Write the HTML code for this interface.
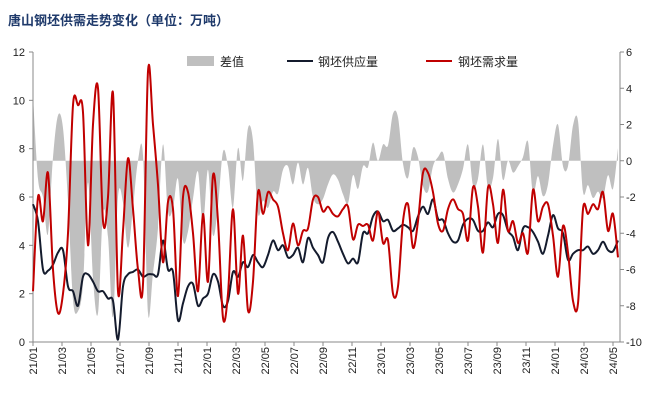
<!DOCTYPE html>
<html><head><meta charset="utf-8">
<style>
body{margin:0;background:#fff;}
svg text{font-family:"Liberation Sans","Noto Sans CJK SC",sans-serif;}
</style></head>
<body>
<svg id="chart" width="652" height="415" xmlns="http://www.w3.org/2000/svg">
<text x="8" y="25" font-size="13" font-weight="bold" fill="#1f3a6b">唐山钢坯供需走势变化（单位：万吨）</text>
<g id="diffG"></g>
<g id="axes"></g>
<g id="lines"></g>
<g>
<g><rect x="187" y="56" width="27" height="10" fill="#bfbfbf"/><text x="220" y="66" font-size="12" fill="#222">差值</text></g>
<g><line x1="287" y1="61" x2="313" y2="61" stroke="#141b2d" stroke-width="2"/><text x="318" y="66" font-size="12" fill="#222">钢坯供应量</text></g>
<g><line x1="426" y1="61" x2="452" y2="61" stroke="#c00000" stroke-width="2"/><text x="458" y="66" font-size="12" fill="#222">钢坯需求量</text></g>
</g>
</svg>
<script>
const xLabels=["21/01","21/03","21/05","21/07","21/09","21/11","22/01","22/03","22/05","22/07","22/09","22/11","23/01","23/03","23/05","23/07","23/09","23/11","24/01","24/03","24/05"];
const leftTicks=[0,2,4,6,8,10,12];
const rightTicks=[-10,-8,-6,-4,-2,0,2,4,6];
const supply=[5.7,5.0,3.0,2.95,3.2,3.7,3.8,2.3,2.1,1.5,2.7,2.8,2.5,2.1,2.1,1.8,1.7,0.1,2.3,2.8,2.9,3.0,2.7,2.8,2.8,2.8,4.2,3.0,2.9,0.9,1.6,2.3,2.4,1.5,1.8,2.0,2.8,2.5,1.5,1.7,2.9,2.7,3.3,3.1,3.6,3.3,3.1,3.6,4.2,3.8,4.0,3.5,3.6,3.9,3.3,4.3,3.9,3.6,3.3,4.3,
4.55,4.15,3.65,3.25,3.45,3.3,4.5,4.5,5.2,5.4,5.0,5.05,4.6,4.7,4.85,4.75,4.6,5.2,5.6,5.3,5.9,5.1,5.05,4.5,4.15,4.2,4.85,5.1,5.05,4.6,4.6,4.95,4.75,5.3,5.25,4.6,4.35,3.8,4.7,4.75,4.55,4.15,3.65,4.4,5.25,4.7,4.5,3.4,3.65,3.8,3.8,3.95,3.65,3.8,4.15,3.8,3.75,4.2];
const demand=[2.1,6.0,5.0,7.0,3.0,1.2,2.0,4.5,9.8,9.8,9.5,4.0,9.0,10.5,5.0,6.0,10.3,2.1,4.6,7.6,5.5,3.0,2.4,11.2,9.0,6.5,3.3,5.8,5.5,1.9,6.0,6.2,4.5,2.1,5.3,2.5,6.9,5.0,1.0,2.0,5.5,2.0,4.4,1.3,2.5,6.2,5.3,6.2,5.9,5.6,4.5,3.8,4.9,4.0,4.6,4.7,5.9,6.0,5.4,5.6,
5.3,5.2,5.5,5.6,4.25,4.85,4.8,4.85,4.2,5.4,4.1,4.2,2.0,2.3,5.0,5.7,3.9,5.0,7.0,7.0,6.2,4.9,4.6,5.5,5.9,5.5,5.3,4.2,6.4,5.6,3.7,6.4,5.7,4.1,6.3,4.6,5.0,4.1,4.5,3.7,6.3,5.0,5.6,5.7,4.4,2.7,4.8,3.7,1.7,1.6,5.5,5.3,5.7,5.5,6.2,4.6,5.3,3.5];
const L=33,R=620,T=52,B=342,XS=33,XE=618;
const yL=v=>B-(v/12)*(B-T);
const yR=v=>B-((v+10)/16)*(B-T);
const xI=i=>XS+i*(XE-XS)/(supply.length-1);
const NS="http://www.w3.org/2000/svg";
function mk(tag,attrs,parent){const e=document.createElementNS(NS,tag);for(const k in attrs)e.setAttribute(k,attrs[k]);parent.appendChild(e);return e;}
function smooth(pts){let d='';for(let i=0;i<pts.length-1;i++){const p0=pts[Math.max(0,i-1)],p1=pts[i],p2=pts[i+1],p3=pts[Math.min(pts.length-1,i+2)];
const c1x=p1[0]+(p2[0]-p0[0])/6,c1y=p1[1]+(p2[1]-p0[1])/6,c2x=p2[0]-(p3[0]-p1[0])/6,c2y=p2[1]-(p3[1]-p1[1])/6;
d+=` C${c1x},${c1y} ${c2x},${c2y} ${p2[0]},${p2[1]}`;}return d;}
const ax=document.getElementById('axes'),lg=document.getElementById('lines'),dg=document.getElementById('diffG');
const dpts=supply.map((s,i)=>[xI(i),yR(s-demand[i])]);
let d=`M${xI(0)},${yR(0)} L${dpts[0][0]},${dpts[0][1]}`+smooth(dpts)+` L${xI(supply.length-1)},${yR(0)} Z`;
const area=mk('path',{d:d,fill:'#bfbfbf',stroke:'none'},dg);


mk('line',{x1:L,y1:T,x2:L,y2:B,stroke:'#888'},ax);
mk('line',{x1:R,y1:T,x2:R,y2:B,stroke:'#888'},ax);
mk('line',{x1:L,y1:B,x2:R,y2:B,stroke:'#888'},ax);
leftTicks.forEach(v=>{mk('line',{x1:L-4,y1:yL(v),x2:L,y2:yL(v),stroke:'#888'},ax);
const t=mk('text',{x:L-8,y:yL(v)+4,'font-size':11,'text-anchor':'end',fill:'#222'},ax);t.textContent=v;

});
rightTicks.forEach(v=>{mk('line',{x1:R,y1:yR(v),x2:R+4,y2:yR(v),stroke:'#888'},ax);
const t=mk('text',{x:R+6,y:yR(v)+4,'font-size':11,fill:'#222'},ax);t.textContent=v;

});
const step=(613-33)/(xLabels.length-1);
xLabels.forEach((lab,j)=>{const x=33+j*step;mk('line',{x1:x,y1:B,x2:x,y2:B+4,stroke:'#888'},ax);
const t=mk('text',{x:0,y:0,'font-size':11,'text-anchor':'end',fill:'#222',transform:`translate(${x+4},${B+5}) rotate(-90)`},ax);t.textContent=lab;

});
function line(arr,color,name){const pts=arr.map((v,i)=>[xI(i),yL(v)]);const p=`M${pts[0][0]},${pts[0][1]}`+smooth(pts);
const e=mk('path',{d:p,fill:'none',stroke:color,'stroke-width':2,'stroke-linejoin':'round'},lg);

}
line(supply,'#141b2d','supply-line');
line(demand,'#c00000','demand-line');
</script>
</body></html>
